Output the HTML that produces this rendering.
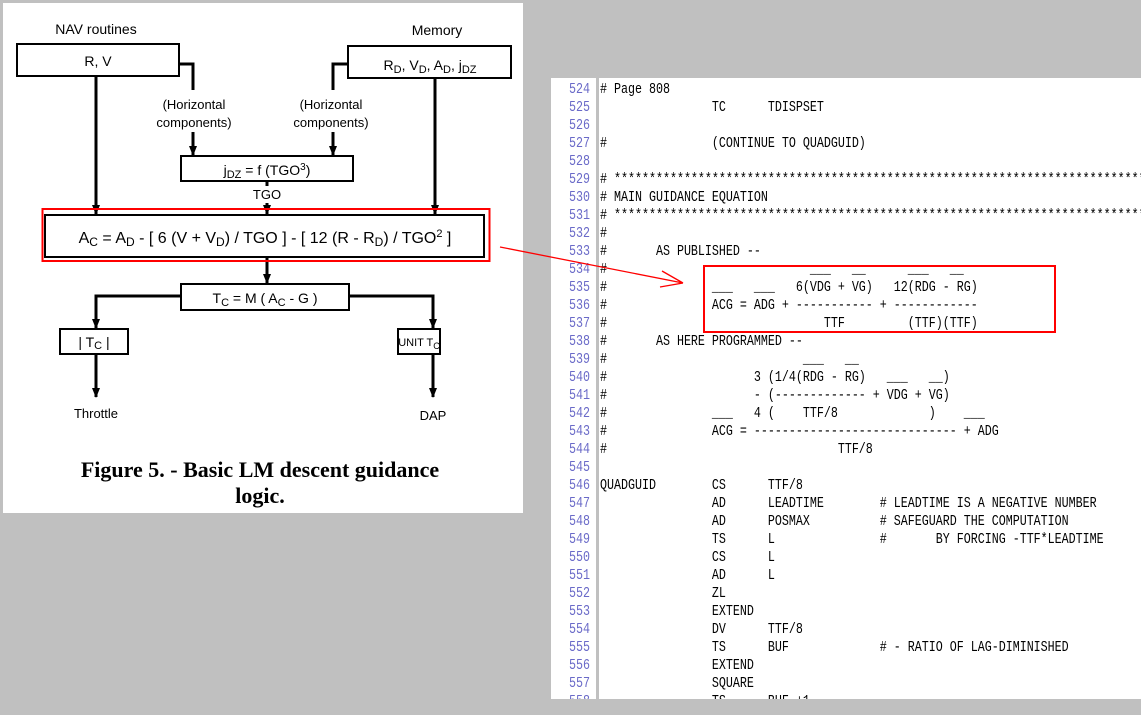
<!DOCTYPE html>
<html><head><meta charset="utf-8"><style>
html,body{margin:0;padding:0;background:#c0c0c0;width:1141px;height:715px;overflow:hidden;position:relative}
#left{position:absolute;left:3px;top:3px;width:520px;height:510px;background:#fff}
#panel{position:absolute;left:551px;top:78px;width:590px;height:621px;background:#fff;overflow:hidden}
#gut{position:absolute;left:45px;top:0;width:3px;height:621px;background:#c0c0c0}
.ln{position:absolute;left:0;width:39px;text-align:right;color:#6a6ac8;font:11.67px "Liberation Mono",monospace;height:18px;line-height:18px;transform:scaleY(1.25)}
.cd{position:absolute;left:49px;white-space:pre;color:#000;font:11.67px "Liberation Mono",monospace;height:18px;line-height:18px;transform:scaleY(1.25)}
svg{position:absolute;left:0;top:0}
</style></head><body>
<div id="left"></div>
<div id="panel">
<div id="gut"></div>
<div class="ln" style="top:2px">524</div><div class="cd" style="top:2px"># Page 808</div>
<div class="ln" style="top:20px">525</div><div class="cd" style="top:20px">                TC      TDISPSET</div>
<div class="ln" style="top:38px">526</div>
<div class="ln" style="top:56px">527</div><div class="cd" style="top:56px">#               (CONTINUE TO QUADGUID)</div>
<div class="ln" style="top:74px">528</div>
<div class="ln" style="top:92px">529</div><div class="cd" style="top:92px"># ****************************************************************************</div>
<div class="ln" style="top:110px">530</div><div class="cd" style="top:110px"># MAIN GUIDANCE EQUATION</div>
<div class="ln" style="top:128px">531</div><div class="cd" style="top:128px"># ****************************************************************************</div>
<div class="ln" style="top:146px">532</div><div class="cd" style="top:146px">#</div>
<div class="ln" style="top:164px">533</div><div class="cd" style="top:164px">#       AS PUBLISHED --</div>
<div class="ln" style="top:182px">534</div><div class="cd" style="top:182px">#                             ___   __      ___   __</div>
<div class="ln" style="top:200px">535</div><div class="cd" style="top:200px">#               ___   ___   6(VDG + VG)   12(RDG - RG)</div>
<div class="ln" style="top:218px">536</div><div class="cd" style="top:218px">#               ACG = ADG + ----------- + ------------</div>
<div class="ln" style="top:236px">537</div><div class="cd" style="top:236px">#                               TTF         (TTF)(TTF)</div>
<div class="ln" style="top:254px">538</div><div class="cd" style="top:254px">#       AS HERE PROGRAMMED --</div>
<div class="ln" style="top:272px">539</div><div class="cd" style="top:272px">#                            ___   __</div>
<div class="ln" style="top:290px">540</div><div class="cd" style="top:290px">#                     3 (1/4(RDG - RG)   ___   __)</div>
<div class="ln" style="top:308px">541</div><div class="cd" style="top:308px">#                     - (------------- + VDG + VG)</div>
<div class="ln" style="top:326px">542</div><div class="cd" style="top:326px">#               ___   4 (    TTF/8             )    ___</div>
<div class="ln" style="top:344px">543</div><div class="cd" style="top:344px">#               ACG = ----------------------------- + ADG</div>
<div class="ln" style="top:362px">544</div><div class="cd" style="top:362px">#                                 TTF/8</div>
<div class="ln" style="top:380px">545</div>
<div class="ln" style="top:398px">546</div><div class="cd" style="top:398px">QUADGUID        CS      TTF/8</div>
<div class="ln" style="top:416px">547</div><div class="cd" style="top:416px">                AD      LEADTIME        # LEADTIME IS A NEGATIVE NUMBER</div>
<div class="ln" style="top:434px">548</div><div class="cd" style="top:434px">                AD      POSMAX          # SAFEGUARD THE COMPUTATION</div>
<div class="ln" style="top:452px">549</div><div class="cd" style="top:452px">                TS      L               #       BY FORCING -TTF*LEADTIME</div>
<div class="ln" style="top:470px">550</div><div class="cd" style="top:470px">                CS      L</div>
<div class="ln" style="top:488px">551</div><div class="cd" style="top:488px">                AD      L</div>
<div class="ln" style="top:506px">552</div><div class="cd" style="top:506px">                ZL</div>
<div class="ln" style="top:524px">553</div><div class="cd" style="top:524px">                EXTEND</div>
<div class="ln" style="top:542px">554</div><div class="cd" style="top:542px">                DV      TTF/8</div>
<div class="ln" style="top:560px">555</div><div class="cd" style="top:560px">                TS      BUF             # - RATIO OF LAG-DIMINISHED</div>
<div class="ln" style="top:578px">556</div><div class="cd" style="top:578px">                EXTEND</div>
<div class="ln" style="top:596px">557</div><div class="cd" style="top:596px">                SQUARE</div>
<div class="ln" style="top:614px">558</div><div class="cd" style="top:614px">                TS      BUF +1</div>
</div>
<svg width="1141" height="715" viewBox="0 0 1141 715" font-family="Liberation Sans, sans-serif">
<defs><marker id="ah" markerWidth="10" markerHeight="8" refX="9" refY="4" orient="auto" markerUnits="userSpaceOnUse"><path d="M0,0 L10,4 L0,8 Z" fill="#000"/></marker></defs>
<g fill="none" stroke="#000" stroke-width="2">
<rect x="17" y="44" width="162" height="32"/>
<rect x="348" y="46" width="163" height="32"/>
<rect x="181" y="156" width="172" height="25"/>
<rect x="45" y="215" width="439" height="42"/>
<rect x="181" y="284" width="168" height="26"/>
<rect x="60" y="329" width="68" height="25"/>
<rect x="398" y="329" width="42" height="25"/>
</g>
<g fill="none" stroke="#000" stroke-width="3">
<path d="M96,77 V214" marker-end="url(#ah)"/>
<path d="M435,79 V214" marker-end="url(#ah)"/>
<path d="M179,64 H193 V90"/>
<path d="M193,132 V155" marker-end="url(#ah)"/>
<path d="M348,64 H333 V90"/>
<path d="M333,132 V155" marker-end="url(#ah)"/>
<path d="M267,181 V186"/>
<path d="M267,203 V214" marker-end="url(#ah)"/>
<path d="M267,257 V283" marker-end="url(#ah)"/>
<path d="M181,296 H96 V328" marker-end="url(#ah)"/>
<path d="M349,296 H433 V328" marker-end="url(#ah)"/>
<path d="M96,354 V397" marker-end="url(#ah)"/>
<path d="M433,354 V397" marker-end="url(#ah)"/>
</g>
<rect x="42.5" y="209" width="447" height="52" fill="none" stroke="#f00" stroke-width="2"/>
<rect x="704" y="266" width="351" height="66" fill="none" stroke="#f00" stroke-width="2"/>
<path d="M500,247 L683,283 M683,283 L662,271 M683,283 L660,287" stroke="#f00" stroke-width="1.3" fill="none"/>
<g font-size="14" text-anchor="middle" fill="#000">
<text x="96" y="34">NAV routines</text>
<text x="437" y="35">Memory</text>
<text x="98" y="66">R, V</text>
<text x="430" y="70">R<tspan font-size="11" dy="3">D</tspan><tspan dy="-3">, V</tspan><tspan font-size="11" dy="3">D</tspan><tspan dy="-3">, A</tspan><tspan font-size="11" dy="3">D</tspan><tspan dy="-3">, j</tspan><tspan font-size="11" dy="3">DZ</tspan></text>
<text x="194" y="109" font-size="13">(Horizontal</text>
<text x="194" y="127" font-size="13">components)</text>
<text x="331" y="109" font-size="13">(Horizontal</text>
<text x="331" y="127" font-size="13">components)</text>
<text x="267" y="175">j<tspan font-size="11" dy="3">DZ</tspan><tspan dy="-3"> = f (TGO</tspan><tspan font-size="10" dy="-5">3</tspan><tspan dy="5">)</tspan></text>
<text x="267" y="199" font-size="13">TGO</text>
<text x="265" y="243" font-size="16">A<tspan font-size="12" dy="3">C</tspan><tspan dy="-3"> = A</tspan><tspan font-size="12" dy="3">D</tspan><tspan dy="-3"> - [ 6 (V + V</tspan><tspan font-size="12" dy="3">D</tspan><tspan dy="-3">) / TGO ] - [ 12 (R - R</tspan><tspan font-size="12" dy="3">D</tspan><tspan dy="-3">) / TGO</tspan><tspan font-size="11" dy="-6">2</tspan><tspan dy="6"> ]</tspan></text>
<text x="265" y="303">T<tspan font-size="11" dy="3">C</tspan><tspan dy="-3"> = M ( A</tspan><tspan font-size="11" dy="3">C</tspan><tspan dy="-3"> - G )</tspan></text>
<text x="94" y="347">| T<tspan font-size="11" dy="2">C</tspan><tspan dy="-2"> |</tspan></text>
<text x="419" y="346" font-size="11">UNIT T<tspan font-size="9" dy="3">C</tspan></text>
<text x="96" y="418" font-size="13">Throttle</text>
<text x="433" y="420" font-size="13">DAP</text>
</g>
<g font-family="Liberation Serif, serif" font-weight="bold" font-size="22" text-anchor="middle" fill="#000">
<text x="260" y="477">Figure 5. - Basic LM descent guidance</text>
<text x="260" y="503">logic.</text>
</g>
</svg>
</body></html>
